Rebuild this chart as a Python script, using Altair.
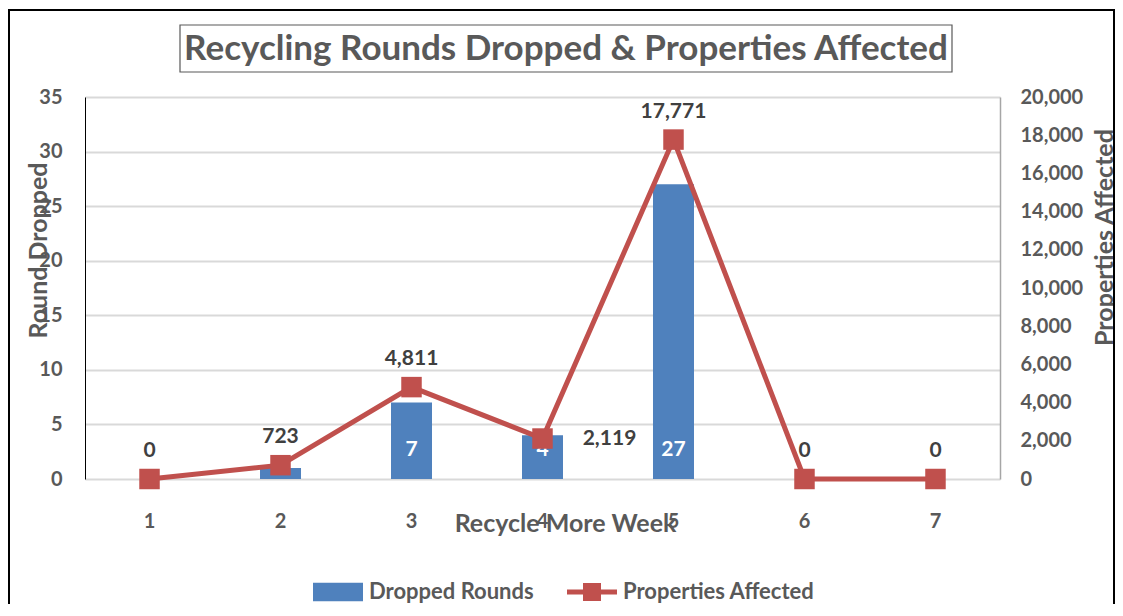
import altair as alt
import pandas as pd

weeks = [1, 2, 3, 4, 5, 6, 7]
dropped_rounds = [0, 1, 7, 4, 27, 0, 0]
properties_affected = [0, 723, 4811, 2119, 17771, 0, 0]
series_names = ["Dropped Rounds", "Properties Affected"]
chart_title = "Recycling Rounds Dropped & Properties Affected"

df = pd.DataFrame({
    "week": weeks,
    "dropped": dropped_rounds,
    "props": properties_affected,
    "s_bar": [series_names[0]] * len(weeks),
    "s_line": [series_names[1]] * len(weeks),
})

FONT = "Lato"
GRAY = "#595959"
DARK = "#404040"
BLUE = "#4F81BD"
RED = "#C0504D"
TICK_FS = 20
TITLE_FS = 25
LABEL_FS = 21

base = alt.Chart(df).encode(
    x=alt.X(
        "week:O",
        scale=alt.Scale(paddingInner=0.687, paddingOuter=0.336),
        axis=alt.Axis(
            title="Recycle More Week", labelAngle=0, ticks=False, domain=False,
            labelPadding=32, labelFontSize=TICK_FS, labelFont=FONT, labelFontWeight="bold",
            labelColor=GRAY, titleX=480, titleY=44, titleBaseline="middle",
            titleAlign="center", titleFontSize=TITLE_FS, titleFont=FONT,
            titleFontWeight="bold", titleColor=GRAY,
        ),
    )
)

left_scale = alt.Scale(domain=[0, 35])
left_axis = alt.Axis(
    title="Round Dropped", values=[0, 5, 10, 15, 20, 25, 30, 35], ticks=False,
    domainColor="black", domainWidth=1, grid=True, gridColor="#D9D9D9", gridWidth=2,
    labelPadding=23, labelFontSize=TICK_FS, labelFont=FONT, labelFontWeight="bold",
    labelColor=GRAY, labelOverlap=False, titleX=-47, titleY=153, titleAngle=270,
    titleBaseline="middle", titleAlign="center", titleFontSize=TITLE_FS,
    titleFont=FONT, titleFontWeight="bold", titleColor=GRAY,
)

right_scale = alt.Scale(domain=[0, 20000])
right_axis = alt.Axis(
    title="Properties Affected", orient="right",
    labelExpr="format(datum.value, ',')",
    values=list(range(0, 20001, 2000)), ticks=False, grid=False,
    domainColor="#A6A6A6", domainWidth=1.5, labelOverlap=False,
    labelPadding=20, labelFontSize=TICK_FS, labelFont=FONT, labelFontWeight="bold",
    labelColor=GRAY, titleX=104, titleY=140, titleAngle=270,
    titleBaseline="middle", titleAlign="center", titleFontSize=TITLE_FS,
    titleFont=FONT, titleFontWeight="bold", titleColor=GRAY,
)

bars = base.mark_bar().encode(
    y=alt.Y("dropped:Q", scale=left_scale, axis=left_axis),
    fill=alt.Fill(
        "s_bar:N",
        scale=alt.Scale(range=[BLUE]),
        legend=alt.Legend(
            title=None, orient="none", legendX=228, legendY=470, padding=0,
            symbolType="M-1,-0.37H1V0.37H-1Z", symbolSize=2500, symbolStrokeWidth=0,
            labelFont=FONT, labelFontSize=22, labelFontWeight="bold", labelColor=GRAY,
            labelOffset=6, labelLimit=400,
        ),
    ),
)

bar_labels = base.transform_filter("datum.dropped > 1").mark_text(
    color="white", font=FONT, fontSize=LABEL_FS, fontWeight="bold", dy=-29
).encode(y=alt.Y(datum=0, scale=left_scale, axis=left_axis), text="dropped:Q")

bar_group = alt.layer(bars, bar_labels)

y_right = alt.Y("props:Q", scale=right_scale, axis=right_axis)

line = base.mark_line(strokeWidth=5).encode(
    y=y_right,
    stroke=alt.Stroke(
        "s_line:N",
        scale=alt.Scale(range=[RED]),
        legend=alt.Legend(
            title=None, orient="none", legendX=482, legendY=470, padding=0,
            symbolType="M-1,-0.1H1V0.1H-1Z M-0.36,-0.36H0.36V0.36H-0.36Z",
            symbolSize=2500, symbolStrokeWidth=0, symbolFillColor=RED,
            labelFont=FONT, labelFontSize=22, labelFontWeight="bold", labelColor=GRAY,
            labelOffset=6, labelLimit=400,
        ),
    ),
)

points = base.mark_square(size=420, color=RED, opacity=1).encode(y=y_right)

labels_up = base.transform_filter("datum.week != 4").mark_text(
    color=DARK, font=FONT, fontSize=LABEL_FS, fontWeight="bold", dy=-28
).encode(y=y_right, text=alt.Text("props:Q", format=","))

labels_right = base.transform_filter("datum.week == 4").mark_text(
    color=DARK, font=FONT, fontSize=LABEL_FS, fontWeight="bold", dx=67
).encode(y=y_right, text=alt.Text("props:Q", format=","))

line_group = alt.layer(line, points, labels_up, labels_right)

deco_df = pd.DataFrame({"t": [chart_title]})
title_box = alt.Chart(deco_df).mark_rect(
    fill="white", stroke=GRAY, strokeWidth=1.2
).encode(x=alt.value(95), x2=alt.value(867), y=alt.value(-72), y2=alt.value(-25))
title_text = alt.Chart(deco_df).mark_text(
    font=FONT, fontSize=35, fontWeight="bold", color=GRAY, align="center", baseline="middle"
).encode(x=alt.value(481), y=alt.value(-48), text="t:N")
outer_border = alt.Chart(deco_df).mark_rect(filled=False, stroke="black", strokeWidth=2).encode(
    x=alt.value(-76), x2=alt.value(1029), y=alt.value(-87), y2=alt.value(560)
)

chart = alt.layer(outer_border, title_box, title_text, bar_group, line_group).resolve_scale(
    y="independent"
).properties(
    width=915,
    height=382,
    autosize=alt.AutoSizeParams(type="none"),
    padding={"left": 77, "top": 89, "right": 115, "bottom": 125},
).configure_view(stroke=None)

chart.save("out.html", embed_options={"renderer": "svg", "actions": False})
